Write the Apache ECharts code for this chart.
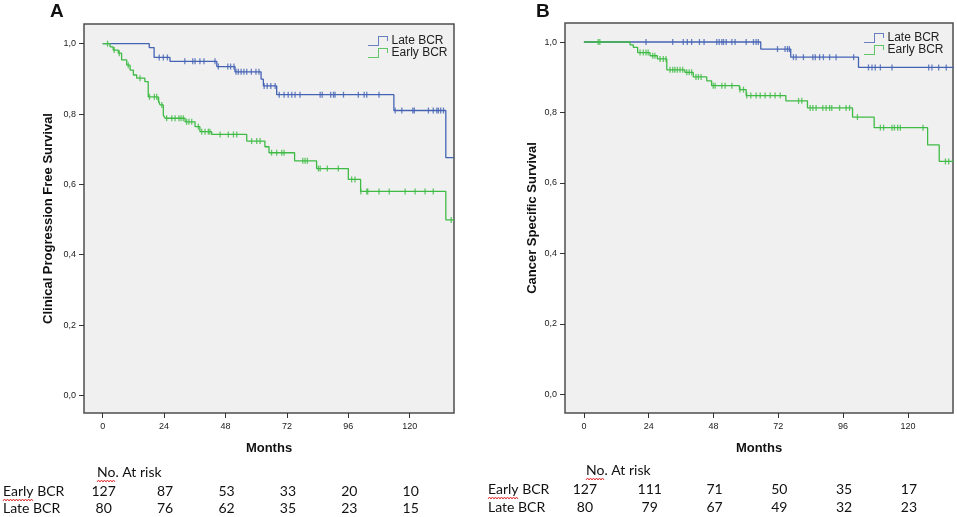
<!DOCTYPE html>
<html><head><meta charset="utf-8">
<script src="https://cdn.jsdelivr.net/npm/echarts@6/dist/echarts.min.js"></script>
<style>html,body{margin:0;padding:0;background:#fff}#c{width:957px;height:517px}</style>
</head><body><div id="c"></div>
<script>
// ---------- DATA ----------
const monthTicks = [0, 24, 48, 72, 96, 120];
const survTicks = [0, 0.2, 0.4, 0.6, 0.8, 1.0];
const seriesNames = ['Late BCR', 'Early BCR'];
const panelTitles = ['A', 'B'];
const yTitles = ['Clinical Progression Free Survival', 'Cancer Specific Survival'];

// Panel A: Kaplan-Meier step curves [month, survival]
const lateA = [[0,1],[18.2,0.989],[20.1,0.961],[26.3,0.950],[44.6,0.935],[51.7,0.920],[61.9,0.899],[62.8,0.880],[68.0,0.855],[113.8,0.810],[134.1,0.676],[137.3,0.676]];
const earlyA = [[0,1],[2.9,0.991],[4.1,0.982],[6.1,0.973],[7.4,0.954],[9.4,0.939],[10.7,0.925],[12.0,0.911],[13.3,0.902],[16.5,0.892],[17.8,0.849],[21.7,0.840],[22.4,0.826],[23.7,0.797],[24.4,0.788],[32.2,0.778],[36.1,0.764],[38.0,0.750],[42.6,0.742],[56.3,0.723],[63.4,0.707],[65.0,0.690],[75.0,0.667],[83.6,0.645],[96.0,0.614],[100.8,0.580],[134.1,0.499],[137.3,0.499]];
// Panel A censored observations [month, survival]
const lateA_cens = [[22.1,0.961],[23.7,0.961],[25.3,0.961],
  [32.1,0.950],[35.2,0.950],[36.1,0.950],[38.0,0.950],[39.6,0.950],[43.9,0.950],
  [45.2,0.935],[48.9,0.935],[50.0,0.935],[51.3,0.935],
  [52.1,0.920],[53.0,0.920],[54.1,0.920],[55.2,0.920],[56.3,0.920],[58.1,0.920],[59.9,0.920],[61.1,0.920],
  [63.1,0.880],[64.3,0.880],[65.7,0.880],[67.4,0.880],
  [69.0,0.855],[70.9,0.855],[72.5,0.855],[73.9,0.855],[75.2,0.855],[77.1,0.855],[85.0,0.855],[85.8,0.855],[89.1,0.855],[90.2,0.855],[90.8,0.855],[94.1,0.855],[99.9,0.855],[102.2,0.855],[103.2,0.855],[108.0,0.855],
  [114.3,0.810],[116.9,0.810],[121.2,0.810],[121.8,0.810],[127.3,0.810],[129.2,0.810],[130.6,0.810],[131.2,0.810],[132.1,0.810],[133.2,0.810]];
const earlyA_cens = [[1.9,1],[4.5,0.982],[6.5,0.973],[10.0,0.939],[14.6,0.902],
  [18.3,0.849],[20.2,0.849],[21.1,0.849],[21.9,0.840],[23.1,0.826],
  [25.0,0.788],[27.0,0.788],[28.3,0.788],[29.8,0.788],[30.6,0.788],[31.5,0.788],
  [32.8,0.778],[33.7,0.778],[34.8,0.778],[37.4,0.764],
  [38.7,0.750],[40.0,0.750],[41.3,0.750],[41.9,0.750],
  [45.9,0.742],[49.1,0.742],[51.1,0.742],[52.4,0.742],
  [58.2,0.723],[60.2,0.723],[61.5,0.723],
  [66.0,0.690],[68.0,0.690],[70.0,0.690],[70.9,0.690],
  [78.2,0.667],[79.1,0.667],[80.0,0.667],
  [84.3,0.645],[85.0,0.645],[87.8,0.645],[92.1,0.645],
  [97.3,0.614],[98.6,0.614],
  [100.9,0.580],[103.2,0.580],[103.6,0.580],[108.0,0.580],[112.0,0.580],[118.2,0.580],[122.1,0.580],[126.0,0.580],[129.2,0.580],
  [136.2,0.499]];

// Panel B
const lateB = [[0,1],[65.5,0.980],[76.6,0.957],[101.7,0.928],[137.0,0.928]];
const earlyB = [[0,1],[17.1,0.992],[18.3,0.985],[19.9,0.970],[24.5,0.961],[27.2,0.952],[30.7,0.921],[37.4,0.914],[40.5,0.901],[45.5,0.890],[47.3,0.876],[57.6,0.865],[60.1,0.848],[74.8,0.833],[82.8,0.813],[99.5,0.787],[107.5,0.757],[127.3,0.708],[131.6,0.661],[137.0,0.661]];
const lateB_cens = [[23.0,1],[32.9,1],[36.8,1],[38.3,1],[39.9,1],[42.8,1],[44.5,1],[49.2,1],[50.1,1],[51.1,1],[51.7,1],[52.7,1],[54.8,1],[56.0,1],[60.1,1],[62.8,1],[63.8,1],[64.6,1],
  [71.7,0.980],[74.5,0.980],[75.4,0.980],[76.1,0.980],
  [77.6,0.957],[78.6,0.957],[81.3,0.957],[84.8,0.957],[85.7,0.957],[87.3,0.957],[88.7,0.957],[91.0,0.957],[93.4,0.957],[99.9,0.957],
  [105.4,0.928],[106.7,0.928],[107.9,0.928],[109.8,0.928],[114.1,0.928],[127.7,0.928],[128.9,0.928],[131.4,0.928],[134.2,0.928]];
const earlyB_cens = [[5.3,1],[5.9,1],
  [20.8,0.970],[22.0,0.970],[23.0,0.970],[23.8,0.970],
  [25.5,0.961],[26.3,0.961],
  [28.2,0.952],[29.4,0.952],[30.4,0.952],
  [31.9,0.921],[32.9,0.921],[33.7,0.921],[34.6,0.921],[35.6,0.921],[36.6,0.921],
  [38.1,0.914],[39.0,0.914],[39.9,0.914],
  [41.5,0.901],[42.4,0.901],[43.4,0.901],
  [47.9,0.876],[48.6,0.876],[51.1,0.876],[52.3,0.876],[54.8,0.876],
  [57.8,0.865],[59.1,0.865],
  [60.3,0.848],[61.8,0.848],[63.8,0.848],[65.3,0.848],[67.1,0.848],[69.0,0.848],[70.8,0.848],[72.7,0.848],
  [79.5,0.833],[80.7,0.833],
  [83.8,0.813],[84.8,0.813],[86.0,0.813],[88.5,0.813],[89.7,0.813],[91.0,0.813],[91.8,0.813],[94.7,0.813],[97.1,0.813],[98.4,0.813],
  [101.3,0.787],
  [109.8,0.757],[111.0,0.757],[114.1,0.757],[115.0,0.757],[116.2,0.757],[117.2,0.757],[125.6,0.757],
  [133.9,0.661],[135.1,0.661]];

// Number at risk
const riskHeader = 'No. At risk';
const riskRowNames = ['Early BCR', 'Late BCR'];
const earlyRiskA = [127, 87, 53, 33, 20, 10];
const lateRiskA = [80, 76, 62, 35, 23, 15];
const earlyRiskB = [127, 111, 71, 50, 35, 17];
const lateRiskB = [80, 79, 67, 49, 32, 23];

// ---------- STYLE / LAYOUT ----------
const BLUE = '#4563b5', GREEN = '#3fbb45';
const AX = '#333';
const stepIcon = 'path://M0,9 L10,9 L10,0 L20,0 L20,5 L19,5 L19,1 L11,1 L11,10 L0,10 Z';
const FONT = '"Liberation Sans", Arial, sans-serif';

function xAxisCfg(i, min, max) {
  return {
    gridIndex: i, type: 'value', min: min, max: max,
    axisLine: { show: false, onZero: false },
    splitLine: { show: false },
    axisTick: { show: true, customValues: monthTicks, length: 5, lineStyle: { color: AX, width: 1 } },
    axisLabel: { customValues: monthTicks, fontSize: 9, color: '#222', margin: 9, fontFamily: FONT },
    name: 'Months', nameLocation: 'middle', nameGap: 29,
    nameTextStyle: { fontWeight: 'bold', fontSize: 13, color: '#111', fontFamily: FONT }
  };
}
function yAxisCfg(i, min, max, gap) {
  return {
    gridIndex: i, type: 'value', min: min, max: max,
    axisLine: { show: false, onZero: false },
    splitLine: { show: false },
    axisTick: { show: true, customValues: survTicks, length: 5, lineStyle: { color: AX, width: 1 } },
    axisLabel: { customValues: survTicks, fontSize: 9, color: '#222', margin: 8, fontFamily: FONT,
      formatter: v => v.toFixed(1).replace('.', ',') },
    name: yTitles[i], nameLocation: 'middle', nameGap: gap, nameRotate: 90,
    nameTextStyle: { fontWeight: 'bold', fontSize: 13, color: '#111', fontFamily: FONT }
  };
}
// KM step line (legend entry is carried by the matching censor series)
function stepSeries(name, data, color, i) {
  return { name: name + ' curve', type: 'line', step: 'end', data: data, xAxisIndex: i, yAxisIndex: i,
    symbol: 'none', lineStyle: { color: color, width: 1.3 }, itemStyle: { color: color },
    silent: true, z: 3 };
}
function censSeries(name, data, color, i) {
  return { name: name, type: 'scatter', data: data, xAxisIndex: i, yAxisIndex: i,
    symbol: 'rect', symbolSize: [1.3, 6], itemStyle: { color: color }, silent: true, z: 4 };
}
function legendCfg(left, top) {
  return { data: seriesNames, orient: 'vertical', left: left, top: top, icon: stepIcon,
    itemWidth: 23, itemHeight: 10, itemGap: 0, selectedMode: false, padding: 0,
    textStyle: { fontSize: 12, color: '#222', fontFamily: FONT, padding: [0, 0, 0, -3] } };
}

const chart = echarts.init(document.getElementById('c'), null, { renderer: 'canvas' });
chart.setOption({
  animation: false,
  backgroundColor: '#fff',
  grid: [
    { left: 84, top: 24, width: 370, height: 389, show: true, backgroundColor: '#f0f0f0', borderColor: '#4d4d4d', borderWidth: 1.5 },
    { left: 565, top: 23, width: 388, height: 390, show: true, backgroundColor: '#f0f0f0', borderColor: '#4d4d4d', borderWidth: 1.5 }
  ],
  xAxis: [xAxisCfg(0, -7.3, 137.3), xAxisCfg(1, -7.0, 136.7)],
  yAxis: [yAxisCfg(0, -0.050, 1.056, 29), yAxisCfg(1, -0.053, 1.054, 26)],
  legend: [legendCfg(368, 35), legendCfg(864, 32)],
  series: [
    stepSeries(seriesNames[0], lateA, BLUE, 0),
    stepSeries(seriesNames[1], earlyA, GREEN, 0),
    censSeries(seriesNames[0], lateA_cens, BLUE, 0),
    censSeries(seriesNames[1], earlyA_cens, GREEN, 0),
    stepSeries(seriesNames[0], lateB, BLUE, 1),
    stepSeries(seriesNames[1], earlyB, GREEN, 1),
    censSeries(seriesNames[0], lateB_cens, BLUE, 1),
    censSeries(seriesNames[1], earlyB_cens, GREEN, 1)
  ]
});

// ---------- panel letters and number-at-risk table ----------
const g = [];
g.push({ type: 'text', left: 50, top: 2, style: { text: panelTitles[0], font: 'bold 19px ' + FONT, fill: '#111' } });
g.push({ type: 'text', left: 536, top: 2, style: { text: panelTitles[1], font: 'bold 19px ' + FONT, fill: '#111' } });

const RFONT = '14px Lato, "Liberation Sans", sans-serif';
function squiggle(x0, x1, y) {
  const pts = [];
  let k = 0;
  for (let x = x0; x <= x1; x += 1.5, k++) pts.push([x, y + (k % 2 ? -1 : 1)]);
  return { type: 'polyline', shape: { points: pts }, style: { stroke: '#e02020', lineWidth: 0.9, fill: null }, silent: true };
}
function riskTable(axisIdx, rowX, headerX, yHead, yEarly, yLate, early, late) {
  g.push({ type: 'text', x: headerX, y: yHead, style: { text: riskHeader, font: RFONT, fill: '#111', textVerticalAlign: 'middle' } });
  g.push(squiggle(headerX, headerX + 19, yHead + 9));
  g.push({ type: 'text', x: rowX, y: yEarly, style: { text: riskRowNames[0], font: RFONT, fill: '#111', textVerticalAlign: 'middle' } });
  g.push(squiggle(rowX, rowX + 31, yEarly + 9));
  g.push({ type: 'text', x: rowX, y: yLate, style: { text: riskRowNames[1], font: RFONT, fill: '#111', textVerticalAlign: 'middle' } });
  monthTicks.forEach((m, j) => {
    const px = chart.convertToPixel({ xAxisIndex: axisIdx }, m);
    g.push({ type: 'text', x: px + 1, y: yEarly, style: { text: String(early[j]), font: RFONT, fill: '#111', textAlign: 'center', textVerticalAlign: 'middle' } });
    g.push({ type: 'text', x: px + 1, y: yLate, style: { text: String(late[j]), font: RFONT, fill: '#111', textAlign: 'center', textVerticalAlign: 'middle' } });
  });
}
riskTable(0, 3, 97, 472, 491, 508, earlyRiskA, lateRiskA);
riskTable(1, 488, 586, 470, 489, 507, earlyRiskB, lateRiskB);
chart.setOption({ graphic: g });
</script>
</body></html>
